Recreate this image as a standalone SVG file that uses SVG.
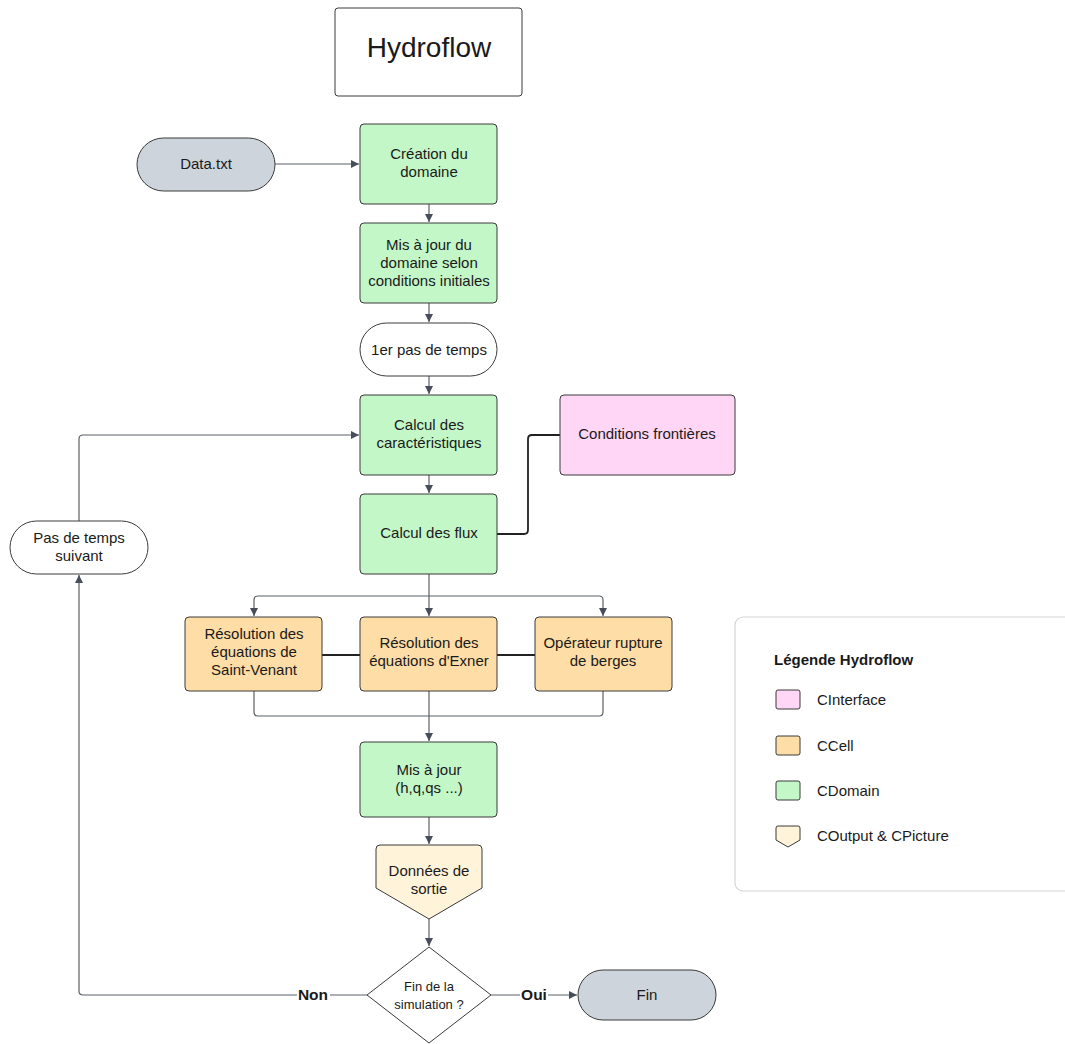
<svg xmlns="http://www.w3.org/2000/svg" width="1065" height="1044" viewBox="0 0 1065 1044">
<style>
text{font-family:"Liberation Sans",Arial,sans-serif;font-size:15px;fill:#1a1a1a;text-anchor:middle}
.box{stroke:#3a3a3a;stroke-width:1}
.g{fill:#C3F7C8}.o{fill:#FFDDA6}.p{fill:#FFD6F5}.c{fill:#FFF3D9}.gr{fill:#CED4DB}.w{fill:#fff}
.ln{fill:none;stroke:#5b6068;stroke-width:1.2}
.dk{fill:none;stroke:#222;stroke-width:1.8}
.lbl{font-weight:bold;font-size:15.5px}
</style>
<defs>
<marker id="ar" viewBox="0 0 10 10" refX="10" refY="5" markerWidth="8" markerHeight="8" markerUnits="userSpaceOnUse" orient="auto">
<path d="M0,0 L10,5 L0,10 z" fill="#474E59"/>
</marker>
</defs>
<rect width="1065" height="1044" fill="#fff"/>

<g id="connectors">
<path class="ln" d="M275,164 H359" marker-end="url(#ar)"/>
<path class="ln" d="M429,204 V222" marker-end="url(#ar)"/>
<path class="ln" d="M429,303 V322" marker-end="url(#ar)"/>
<path class="ln" d="M429,376 V394" marker-end="url(#ar)"/>
<path class="ln" d="M429,475 V493" marker-end="url(#ar)"/>
<path class="dk" d="M497,534 H524 Q528,534 528,530 V439 Q528,435 532,435 H560"/>
<path class="ln" d="M429,574 V616" marker-end="url(#ar)"/>
<path class="ln" d="M429,596 H258 Q254,596 254,600 V616" marker-end="url(#ar)"/>
<path class="ln" d="M429,596 H599 Q603,596 603,600 V616" marker-end="url(#ar)"/>
<path class="dk" d="M322,655 H360"/>
<path class="dk" d="M497,655 H535"/>
<path class="ln" d="M254,691 V712 Q254,716 258,716 H599 Q603,716 603,712 V691"/>
<path class="ln" d="M429,691 V741" marker-end="url(#ar)"/>
<path class="ln" d="M429,817 V844" marker-end="url(#ar)"/>
<path class="ln" d="M429,919 V946" marker-end="url(#ar)"/>
<path class="ln" d="M367,995 H83 Q79,995 79,991 V575" marker-end="url(#ar)"/>
<path class="ln" d="M79,521 V439 Q79,435 83,435 H359" marker-end="url(#ar)"/>
<path class="ln" d="M491,995 H577" marker-end="url(#ar)"/>
<rect x="297" y="985" width="33" height="20" fill="#fff"/>
<text class="lbl" x="313" y="1000">Non</text>
<rect x="520" y="985" width="28" height="20" fill="#fff"/>
<text class="lbl" x="534" y="1000">Oui</text>
</g>

<g id="title"><rect class="box w" x="335" y="8" width="187" height="88" rx="3"/><text x="429" y="57" style="font-size:28px">Hydroflow</text></g>
<g id="data"><rect class="box gr" x="137" y="138" width="138" height="53" rx="26.5"/><text x="206" y="169">Data.txt</text></g>
<g id="creation"><rect class="box g" x="360" y="124" width="137" height="80" rx="4"/><text x="429" y="159">Création du</text><text x="429" y="177">domaine</text></g>
<g id="misajour1"><rect class="box g" x="360" y="223" width="137" height="80" rx="4"/><text x="429" y="250">Mis à jour du</text><text x="429" y="268">domaine selon</text><text x="429" y="286">conditions initiales</text></g>
<g id="premier"><rect class="box w" x="360" y="323" width="137" height="53" rx="26.5"/><text x="429" y="355">1er pas de temps</text></g>
<g id="caract"><rect class="box g" x="360" y="395" width="137" height="80" rx="4"/><text x="429" y="430">Calcul des</text><text x="429" y="448">caractéristiques</text></g>
<g id="frontieres"><rect class="box p" x="560" y="395" width="175" height="80" rx="4"/><text x="647" y="439">Conditions frontières</text></g>
<g id="flux"><rect class="box g" x="360" y="494" width="137" height="80" rx="4"/><text x="429" y="538">Calcul des flux</text></g>
<g id="saintvenant"><rect class="box o" x="185" y="617" width="137" height="74" rx="4"/><text x="254" y="639">Résolution des</text><text x="254" y="657">équations de</text><text x="254" y="675">Saint-Venant</text></g>
<g id="exner"><rect class="box o" x="360" y="617" width="137" height="74" rx="4"/><text x="429" y="648">Résolution des</text><text x="429" y="666">équations d'Exner</text></g>
<g id="rupture"><rect class="box o" x="535" y="617" width="137" height="74" rx="4"/><text x="603" y="648">Opérateur rupture</text><text x="603" y="666">de berges</text></g>
<g id="misajour2"><rect class="box g" x="360" y="742" width="137" height="75" rx="4"/><text x="429" y="775">Mis à jour</text><text x="429" y="793">(h,q,qs ...)</text></g>
<g id="sortie"><path class="box c" d="M380,845 H478 Q482,845 482,849 V888 L429,919 L376,888 V849 Q376,845 380,845 Z"/><text x="429" y="876">Données de</text><text x="429" y="894">sortie</text></g>
<g id="fin-sim"><path class="box w" d="M429,947 L491,995 L429,1043 L367,995 Z"/><text x="429" y="991" style="font-size:13px">Fin de la</text><text x="429" y="1009" style="font-size:13px">simulation ?</text></g>
<g id="suivant"><rect class="box w" x="10" y="521" width="138" height="53" rx="26.5"/><text x="79" y="543">Pas de temps</text><text x="79" y="561">suivant</text></g>
<g id="fin"><rect class="box gr" x="578" y="970" width="138" height="50" rx="25"/><text x="647" y="1000">Fin</text></g>

<g id="legend">
<rect x="735" y="617" width="345" height="274" rx="8" fill="#fff" stroke="#d6d6d6" stroke-width="1.2"/>
<text x="774" y="665" style="text-anchor:start;font-weight:bold;font-size:15px">Légende Hydroflow</text>
<rect class="box p" x="776" y="690" width="24" height="19" rx="2"/><text x="817" y="705" style="text-anchor:start">CInterface</text>
<rect class="box o" x="776" y="736" width="24" height="19" rx="2"/><text x="817" y="751" style="text-anchor:start">CCell</text>
<rect class="box g" x="776" y="781" width="24" height="19" rx="2"/><text x="817" y="796" style="text-anchor:start">CDomain</text>
<path class="box c" d="M778,826 H798 Q800,826 800,828 V840 L788,847 L776,840 V828 Q776,826 778,826 Z"/><text x="817" y="841" style="text-anchor:start">COutput &amp; CPicture</text>
</g>
</svg>
